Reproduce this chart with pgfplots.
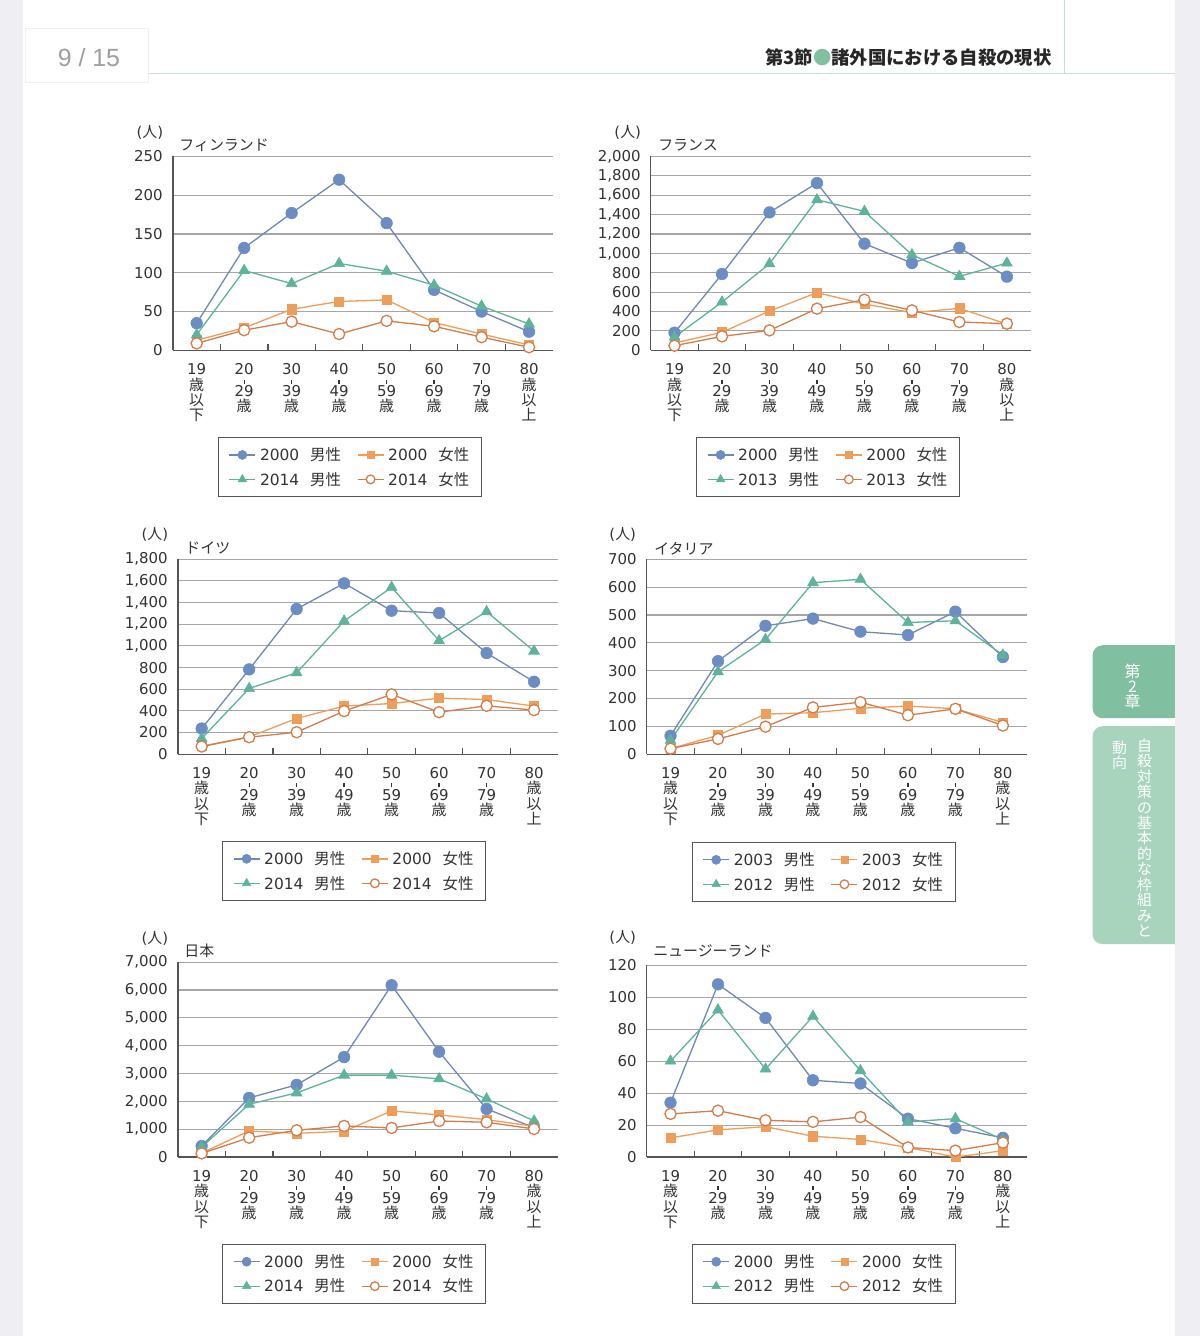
\documentclass[border=0pt]{standalone}
\usepackage{fontspec}
\setmainfont{DejaVu Sans}
\newfontfamily\jp{Noto Sans CJK JP}
\newfontfamily\lib{Liberation Sans}
\usepackage{pgfplots}
\usepackage{pgfplotstable}
\pgfplotsset{compat=1.18}

\definecolor{mblue}{HTML}{6C8DC4}
\definecolor{lblue}{HTML}{6F88B4}
\definecolor{mgreen}{HTML}{5DB39B}
\definecolor{morange}{HTML}{EE9D5A}
\definecolor{mbrown}{HTML}{D47D4B}
\definecolor{gridc}{HTML}{A6A6A6}
\definecolor{axisc}{HTML}{555555}
\definecolor{txt}{HTML}{333333}
\definecolor{tabA}{HTML}{80BFA0}
\definecolor{tabB}{HTML}{A8D4BE}
\definecolor{side}{HTML}{EFEEF3}
\definecolor{hline}{HTML}{C9DCDA}

\newcommand{\J}[1]{{\jp #1}}
\newcommand{\dsh}{\rule[1.5pt]{1.3pt}{4pt}}

% number of suicides by age group, columns: x, 1st year male, 1st year female, 2nd year male, 2nd year female
\pgfplotstableread{
x m1 f1 m2 f2
0 35 13 20 9
1 132 29 103 26
2 177 53 86 37
3 220 63 112 21
4 164 65 102 38
5 78 36 84 31
6 50 21 57 17
7 24 7 34 4
}\fin
\pgfplotstableread{
x m1 f1 m2 f2
0 182 76 137 48
1 787 186 498 144
2 1423 405 893 206
3 1725 595 1553 430
4 1100 478 1433 522
5 900 388 986 412
6 1058 433 763 292
7 760 271 900 275
}\fra
\pgfplotstableread{
x m1 f1 m2 f2
0 237 74 145 71
1 783 160 607 157
2 1341 330 752 203
3 1578 444 1230 398
4 1325 468 1541 552
5 1304 518 1048 388
6 934 505 1316 447
7 669 444 952 407
}\ger
\pgfplotstableread{
x m1 f1 m2 f2
0 66 20 50 20
1 334 68 296 55
2 461 144 412 99
3 487 149 616 168
4 440 165 628 187
5 428 173 473 140
6 512 163 479 163
7 349 114 356 103
}\ita
\pgfplotstableread{
x m1 f1 m2 f2
0 396 144 360 132
1 2125 937 1897 696
2 2593 852 2305 961
3 3590 925 2942 1117
4 6172 1657 2942 1045
5 3782 1513 2810 1297
6 1729 1345 2089 1249
7 1057 1105 1297 1009
}\jpn
\pgfplotstableread{
x m1 f1 m2 f2
0 34 12 60 27
1 108 17 92 29
2 87 19 55 23
3 48 13 88 22
4 46 11 54 25
5 24 6 22 6
6 18 0 24 4
7 12 4 11 9
}\nzl

\pgfplotsset{
  m1/.style={color=lblue, line width=1.3bp, mark=*, mark size=5.8bp,
    mark options={draw=mblue, fill=mblue, line width=0.6bp}},
  m2/.style={color=mgreen, line width=1.3bp, mark=triangle*, mark size=6.2bp,
    mark options={draw=mgreen, fill=mgreen, line width=0.6bp}},
  f1/.style={color=morange, line width=1.3bp, mark=square*, mark size=4.6bp,
    mark options={draw=morange, fill=morange, line width=0.6bp}},
  f2/.style={color=mbrown, line width=1.3bp, mark=*, mark size=5.6bp,
    mark options={draw=mbrown, fill=white, line width=1.3bp}},
  agechart/.style={
    scale only axis, width=380bp, height=194bp,
    xmin=-0.5, xmax=7.5, ymin=0, clip=false,
    axis x line*=bottom, axis y line*=left,
    axis line style={axisc, line width=1.2bp, -},
    xtick={0,...,7},
    xticklabels={{19\\\J{歳}\\\J{以}\\\J{下}},
      {20\\[-5pt]\dsh\\[-4pt]29\\\J{歳}},
      {30\\[-5pt]\dsh\\[-4pt]39\\\J{歳}},
      {40\\[-5pt]\dsh\\[-4pt]49\\\J{歳}},
      {50\\[-5pt]\dsh\\[-4pt]59\\\J{歳}},
      {60\\[-5pt]\dsh\\[-4pt]69\\\J{歳}},
      {70\\[-5pt]\dsh\\[-4pt]79\\\J{歳}},
      {80\\\J{歳}\\\J{以}\\\J{上}}},
    minor xtick={0.5,1.5,...,6.5},
    major x tick style={draw=none},
    minor x tick style={axisc, line width=1.2bp},
    minor tick length=6bp,
    tick align=inside,
    ytick style={draw=none},
    ymajorgrids, grid style={gridc, line width=1.1bp},
    tick label style={font=\fontsize{15}{15.5}\selectfont, text=txt},
    xticklabel style={align=center, anchor=north, inner sep=0pt, yshift=-13bp},
    yticklabel style={anchor=east, inner sep=0pt, xshift=-10bp},
    scaled y ticks=false,
    /pgf/number format/1000 sep={,},
    /pgf/number format/assume math mode=true,
    legend columns=2,
    legend cell align=left,
    legend style={anchor=north, draw=axisc, line width=1bp,
      font=\fontsize{15.5}{17}\selectfont, text=txt,
      inner xsep=10bp, inner ysep=8bp, row sep=6bp,
      /tikz/every even column/.append style={column sep=14bp}},
    legend image code/.code={%
      \draw[mark repeat=2, mark phase=2, #1,
        every mark/.append style={scale=0.78}]
        plot coordinates {(0bp,0bp) (13bp,0bp) (26bp,0bp)};},
  },
}

\newcommand{\fourplots}[3]{%
  \addplot[m1] table[x=x, y=m1] {#1};
  \addlegendentry{\hspace{2bp}#2\hspace{0.7em}\J{男性}}
  \addplot[f1] table[x=x, y=f1] {#1};
  \addlegendentry{\hspace{2bp}#2\hspace{0.7em}\J{女性}}
  \addplot[m2] table[x=x, y=m2] {#1};
  \addlegendentry{\hspace{2bp}#3\hspace{0.7em}\J{男性}}
  \addplot[f2] table[x=x, y=f2] {#1};
  \addlegendentry{\hspace{2bp}#3\hspace{0.7em}\J{女性}}
}

\begin{document}
\begin{tikzpicture}[x=1bp, y=1bp,
  unit/.style={font=\fontsize{15}{15}\selectfont, text=txt},
  cname/.style={font=\jp\fontsize{15}{15}\selectfont, text=txt, anchor=west}]
% page
\fill[white] (0,0) rectangle (1200,1336);
\fill[side] (0,0) rectangle (23,1336);
\draw[hline, line width=1bp] (148,1336-73) -- (1175,1336-73);
\draw[hline, line width=1bp] (1065,1336) -- (1065,1336-73);
\draw[gray!12, line width=0.8bp] (25,1336-28) rectangle (148,1336-82);
\node[font=\lib\fontsize{25}{25}\selectfont, text=gray!75] at (89,1336-57) {9 / 15};
\node[anchor=base east, inner sep=0pt, font=\jp\bfseries\fontsize{18.4}{19}\selectfont, text=black!85]
  at (1052,1336-64) {第3節{\color{tabA}●}諸外国における自殺の現状};

% side tabs
\fill[tabA, rounded corners=10bp] (1093,1336-645) rectangle (1195,1336-718);
\fill[tabB, rounded corners=10bp] (1093,1336-726) rectangle (1195,1336-944);
\fill[side] (1175,0) rectangle (1200,1336);
\node[align=center, font=\jp\fontsize{16}{15}\selectfont, text=white, anchor=north]
  at (1133,1336-660) {第\\2\\章};
\node[align=center, font=\jp\fontsize{15}{15.5}\selectfont, text=white, anchor=north]
  at (1145,1336-735) {自\\殺\\対\\策\\の\\基\\本\\的\\な\\枠\\組\\み\\と};
\node[align=center, font=\jp\fontsize{15}{15.5}\selectfont, text=white, anchor=north]
  at (1120,1336-737) {動\\向};

% Finland
\begin{axis}[agechart, at={(173bp,986bp)}, anchor=south west, height=194bp,
  ymax=250, ytick={0,50,...,250}, legend style={at={(0.466,-0.448)}}]
\fourplots{\fin}{2000}{2014}
\end{axis}
\node[unit] at (150,1336-132) {(\J{人})};
\node[cname] at (176,1336-145) {フィンランド};

% France
\begin{axis}[agechart, at={(651bp,986bp)}, anchor=south west, height=194bp,
  ymax=2000, ytick={0,200,...,2000}, legend style={at={(0.467,-0.448)}}]
\fourplots{\fra}{2000}{2013}
\end{axis}
\node[unit] at (628,1336-132) {(\J{人})};
\node[cname] at (655,1336-145) {フランス};

% Germany
\begin{axis}[agechart, at={(178bp,582bp)}, anchor=south west, height=195bp,
  ymax=1800, ytick={0,200,...,1800}, legend style={at={(0.464,-0.446)}}]
\fourplots{\ger}{2000}{2014}
\end{axis}
\node[unit] at (155,1336-534) {(\J{人})};
\node[cname] at (182,1336-548) {ドイツ};

% Italy
\begin{axis}[agechart, at={(647bp,582bp)}, anchor=south west, height=195bp,
  ymax=700, ytick={0,100,...,700}, legend style={at={(0.466,-0.451)}}]
\fourplots{\ita}{2003}{2012}
\end{axis}
\node[unit] at (623,1336-534) {(\J{人})};
\node[cname] at (651,1336-548) {イタリア};

% Japan
\begin{axis}[agechart, at={(178bp,179bp)}, anchor=south west, height=195bp,
  ymax=7000, ytick={0,1000,...,7000}, legend style={at={(0.464,-0.446)}}]
\fourplots{\jpn}{2000}{2014}
\end{axis}
\node[unit] at (155,1336-938) {(\J{人})};
\node[cname] at (181,1336-951) {日本};

% New Zealand
\begin{axis}[agechart, at={(647bp,179bp)}, anchor=south west, height=192bp,
  ymax=120, ytick={0,20,...,120}, legend style={at={(0.466,-0.453)}}]
\fourplots{\nzl}{2000}{2012}
\end{axis}
\node[unit] at (623,1336-937) {(\J{人})};
\node[cname] at (650,1336-951) {ニュージーランド};
\end{tikzpicture}
\end{document}
